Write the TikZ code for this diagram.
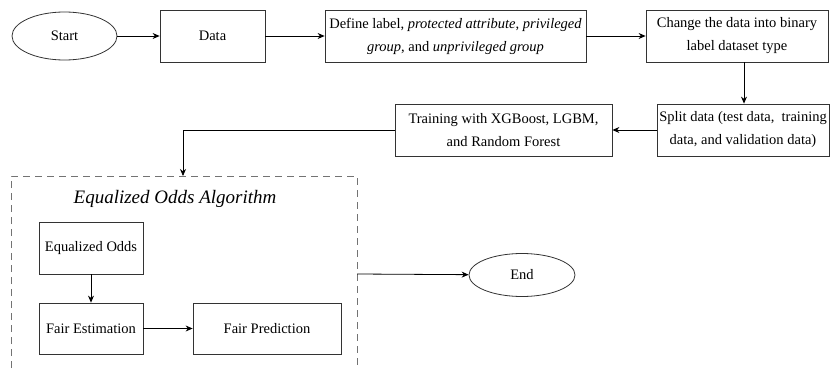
\documentclass[tikz,border=0pt]{standalone}
\usepackage{fontspec}
\setmainfont{Liberation Serif}
\usetikzlibrary{arrows.meta,shapes.geometric}
\begin{document}
\begin{tikzpicture}[x=1pt,y=-1pt,
  box/.style={draw=black!80,line width=0.8pt,rectangle,inner sep=0pt,align=center,font=\fontsize{14.5}{23}\selectfont},
  oval/.style={draw=black!80,line width=0.8pt,ellipse,inner sep=0pt,font=\fontsize{14.5}{17}\selectfont},
  arr/.style={draw=black,line width=0.8pt,-{Stealth[length=7pt,width=6pt]}},
  grp/.style={draw=black!55,line width=1pt,dash pattern=on 7pt off 5pt}]
\useasboundingbox (0,0) rectangle (830,369);
% top row
\node[oval,minimum width=105,minimum height=48] (start) at (64.5,36) {Start};
\node[box,minimum width=105,minimum height=52] (data) at (212.5,36) {Data};
\node[box,minimum width=261,minimum height=52] (define) at (455.5,36) {Define label, \textit{protected attribute}, \textit{privileged}\\\textit{group}, and \textit{unprivileged group}};
\node[box,minimum width=182,minimum height=52] (change) at (737,36) {Change the data into binary\\label dataset type};
% second row
\node[box,minimum width=172,minimum height=52] (split) at (743,130) {Split data (test data,\ \ training\\data, and validation data)};
\node[box,minimum width=217,minimum height=52] (train) at (503.5,130) {Training with XGBoost, LGBM,\\and Random Forest};
% group
\draw[grp] (11,380) -- (11,176) -- (357,176) -- (357,380);
\node[font=\fontsize{19}{22}\selectfont\itshape] (title) at (175,199) {Equalized Odds Algorithm};
\node[box,minimum width=104,minimum height=52] (eo) at (91,248) {Equalized Odds};
\node[box,minimum width=104,minimum height=51] (fe) at (91,328.5) {Fair Estimation};
\node[box,minimum width=148,minimum height=51] (fp) at (267,328.5) {Fair Prediction};
\node[oval,minimum width=106,minimum height=43] (end) at (522,275) {End};
\coordinate (gtop) at (183,176);
\coordinate (gright) at (357,274);
% connectors
\draw[arr] (start) -- (data);
\draw[arr] (data) -- (define);
\draw[arr] (define) -- (change);
\draw[arr] (change.south -| 744,0) -- (split.north -| 744,0);
\draw[arr] (split) -- (train);
\draw[arr] (train.west) -| (gtop);
\draw[arr] (eo) -- (fe);
\draw[arr] (fe) -- (fp);
\draw[arr] (gright) -- (end);
\end{tikzpicture}
\end{document}
